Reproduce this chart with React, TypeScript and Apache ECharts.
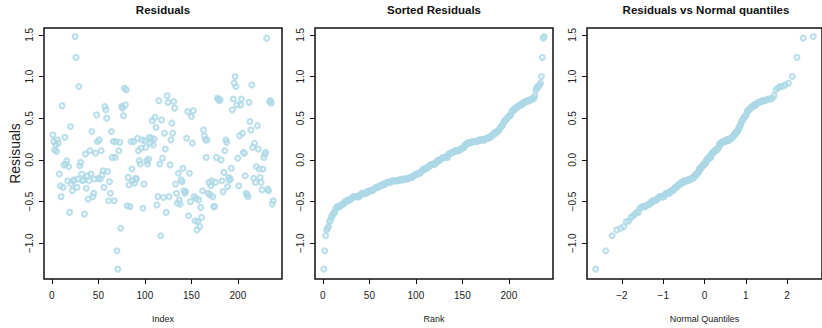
import React, { useEffect, useRef } from "react";
import * as echarts from "echarts";

// Residuals, in index order (1..238)
const residuals: number[] = [
  0.30, 0.22, 0.12, 0.18, 0.10, 0.24, 0.20, -0.17, -0.31, -0.44,
  0.65, -0.33, -0.06, 0.27, -0.05, -0.01, -0.25, -0.08, -0.63, 0.40,
  -0.29, -0.37, -0.25, -0.24, 1.48, 1.23, -0.33, -0.23, 0.88, -0.07,
  -0.03, -0.17, -0.25, -0.24, -0.65, 0.07, -0.34, -0.19, -0.47, -0.25,
  0.11, -0.17, 0.34, -0.44, -0.40, -0.23, 0.08, 0.54, 0.22, -0.22,
  0.24, -0.23, 0.11, -0.18, -0.13, -0.33, 0.64, 0.60, 0.50, -0.14,
  -0.49, -0.26, -0.40, 0.34, 0.03, 0.22, -0.49, 0.03, 0.22, -1.09,
  -1.31, 0.11, 0.21, -0.82, 0.64, 0.62, 0.53, 0.86, 0.66, 0.84,
  -0.55, -0.21, -0.30, -0.56, 0.22, -0.11, -0.25, 0.22, -0.28, -0.22,
  -0.23, 0.26, 0.11, -0.01, -0.05, 0.14, 0.24, -0.58, -0.29, 0.23,
  0.15, -0.01, -0.05, 0.01, 0.27, 0.20, 0.26, 0.47, 0.18, 0.25,
  0.51, 0.39, -0.54, -0.44, 0.71, -0.05, -0.91, 0.48, 0.02, -0.45,
  0.32, 0.13, -0.63, 0.77, 0.69, -0.44, -0.06, 0.24, 0.44, 0.32,
  0.70, 0.62, -0.29, -0.40, -0.52, -0.16, -0.48, -0.53, -0.24, -0.26,
  -0.10, -0.37, -0.40, -0.38, 0.26, 0.58, -0.67, -0.16, -0.50, 0.52,
  0.20, 0.59, -0.44, -0.73, -0.46, -0.84, -0.74, -0.48, -0.80, -0.57,
  -0.69, -0.37, 0.36, 0.29, 0.24, 0.03, 0.24, -0.40, -0.27, -0.42,
  -0.31, -0.25, -0.44, -0.56, -0.56, -0.27, 0.03, 0.74, 0.73, 0.71,
  0.72, 0.00, -0.25, -0.38, -0.15, 0.11, 0.24, 0.21, -0.32, -0.21,
  -0.24, -0.23, -0.10, 0.60, 0.73, 0.92, 1.00, 0.88, 0.66, 0.02,
  -0.31, 0.29, 0.66, 0.73, 0.32, 0.09, 0.08, -0.19, -0.40, -0.42,
  -0.44, 0.69, 0.46, 0.36, 0.90, 0.15, -0.22, 0.20, -0.27, -0.08,
  0.41, 0.13, -0.11, -0.21, -0.27, -0.36, -0.11, 0.03, 0.07, 0.09,
  1.46, -0.35, -0.37, 0.70, 0.71, 0.68, -0.53, -0.49,
];

const panelTitles = ["Residuals", "Sorted Residuals", "Residuals vs Normal quantiles"];
const xAxisNames = ["Index", "Rank", "Normal Quantiles"];
const yAxisName = "Resisuals";
const yTicks = [-1.0, -0.5, 0.0, 0.5, 1.0, 1.5];
const indexTicks = [0, 50, 100, 150, 200];
const quantileTicks = [-2, -1, 0, 1, 2];

// inverse standard normal CDF (Acklam)
function qnorm(p: number): number {
  const a = [-3.969683028665376e1, 2.209460984245205e2, -2.759285104469687e2, 1.38357751867269e2, -3.066479806614716e1, 2.506628277459239];
  const b = [-5.447609879822406e1, 1.615858368580409e2, -1.556989798598866e2, 6.680131188771972e1, -1.328068155288572e1];
  const c = [-7.784894002430293e-3, -3.223964580411365e-1, -2.400758277161838, -2.549732539343734, 4.374664141464968, 2.938163982698783];
  const d = [7.784695709041462e-3, 3.224671290700398e-1, 2.445134137142996, 3.754408661907416];
  const pl = 0.02425;
  if (p < pl) {
    const q = Math.sqrt(-2 * Math.log(p));
    return (((((c[0] * q + c[1]) * q + c[2]) * q + c[3]) * q + c[4]) * q + c[5]) / ((((d[0] * q + d[1]) * q + d[2]) * q + d[3]) * q + 1);
  }
  if (p > 1 - pl) {
    const q = Math.sqrt(-2 * Math.log(1 - p));
    return -(((((c[0] * q + c[1]) * q + c[2]) * q + c[3]) * q + c[4]) * q + c[5]) / ((((d[0] * q + d[1]) * q + d[2]) * q + d[3]) * q + 1);
  }
  const q = p - 0.5;
  const r = q * q;
  return ((((((a[0] * r + a[1]) * r + a[2]) * r + a[3]) * r + a[4]) * r + a[5]) * q) / (((((b[0] * r + b[1]) * r + b[2]) * r + b[3]) * r + b[4]) * r + 1);
}

const minus = (s: string) => s.replace("-", "\u2212");

export default function App() {
  const ref = useRef<HTMLDivElement>(null);
  useEffect(() => {
    if (!ref.current) return;
    const chart = echarts.init(ref.current, null, { renderer: "svg" });
    const n = residuals.length;
    const sorted = [...residuals].sort((x, y) => x - y);
    const dataIndex = residuals.map((v, i) => [i + 1, v]);
    const dataSorted = sorted.map((v, i) => [i + 1, v]);
    const dataQ = sorted.map((v, i) => [qnorm((i + 1) / (n + 1)), v]);

    const yMin = -1.429;
    const yMax = 1.582;
    const rankExt = 0.04 * (n - 1);
    const qMax = qnorm(n / (n + 1));
    const qExt = 0.04 * 2 * qMax;

    const lefts = [44, 315, 587];
    const W = 238;
    const top = 28;
    const H = 256;
    const font = "Liberation Sans, Arial, Helvetica, sans-serif";
    const textColor = "#222";

    const grids = lefts.map((l) => ({
      left: l,
      top,
      width: W,
      height: H,
      show: true,
      borderColor: "#111",
      borderWidth: 1.5,
      backgroundColor: "transparent",
      containLabel: false,
    }));

    const xRanges = [
      [1 - rankExt, n + rankExt, indexTicks],
      [1 - rankExt, n + rankExt, indexTicks],
      [-qMax - qExt, qMax + qExt, quantileTicks],
    ] as [number, number, number[]][];

    const xAxes = xRanges.map(([mn, mx, ticks], i) => ({
      type: "value",
      gridIndex: i,
      position: "bottom",
      min: mn,
      max: mx,
      name: xAxisNames[i],
      nameLocation: "middle",
      nameGap: 35,
      nameTextStyle: { fontSize: 9, color: textColor, fontFamily: font },
      axisLine: { show: false, onZero: false },
      axisTick: { show: true, length: 5, inside: false, customValues: ticks, lineStyle: { color: "#111", width: 1 } },
      axisLabel: {
        show: true,
        customValues: ticks,
        margin: 11,
        fontSize: 10,
        color: textColor,
        fontFamily: font,
        formatter: (v: number) => minus(String(v)),
      },
      splitLine: { show: false },
    }));

    const yAxes = [0, 1, 2].map((i) => ({
      type: "value",
      gridIndex: i,
      position: "left",
      min: yMin,
      max: yMax,
      name: i === 0 ? yAxisName : "",
      nameLocation: "middle",
      nameRotate: 90,
      nameGap: 22,
      nameTextStyle: { fontSize: 14, color: textColor, fontFamily: font },
      axisLine: { show: false, onZero: false },
      axisTick: { show: true, length: 5, inside: false, customValues: yTicks, lineStyle: { color: "#111", width: 1 } },
      axisLabel: {
        show: true,
        customValues: yTicks,
        rotate: 90,
        margin: 10,
        fontSize: 10,
        color: textColor,
        fontFamily: font,
        formatter: (v: number) => minus(v.toFixed(1)),
      },
      splitLine: { show: false },
    }));

    const pointStyle = {
      color: "rgba(0,0,0,0)",
      borderColor: "#ADD8E6",
      borderWidth: 2.3,
    };

    const datasets = [dataIndex, dataSorted, dataQ];
    const series = datasets.map((d, i) => ({
      type: "scatter",
      xAxisIndex: i,
      yAxisIndex: i,
      data: d,
      symbol: "circle",
      symbolSize: 4.8,
      itemStyle: pointStyle,
      silent: true,
      emphasis: { disabled: true },
    }));

    chart.setOption({
      animation: false,
      backgroundColor: "#fff",
      title: panelTitles.map((t, i) => ({
        text: t,
        left: lefts[i] + W / 2,
        top: 4,
        padding: 0,
        textAlign: "center",
        textStyle: { fontSize: 11.5, fontWeight: "bold", color: "#111", fontFamily: font },
      })),
      grid: grids,
      xAxis: xAxes,
      yAxis: yAxes,
      series,
    } as any);
    return () => chart.dispose();
  }, []);
  return (
    <div
      ref={ref}
      style={{ position: "absolute", left: 0, top: 0, width: 822, height: 328 }}
    />
  );
}
